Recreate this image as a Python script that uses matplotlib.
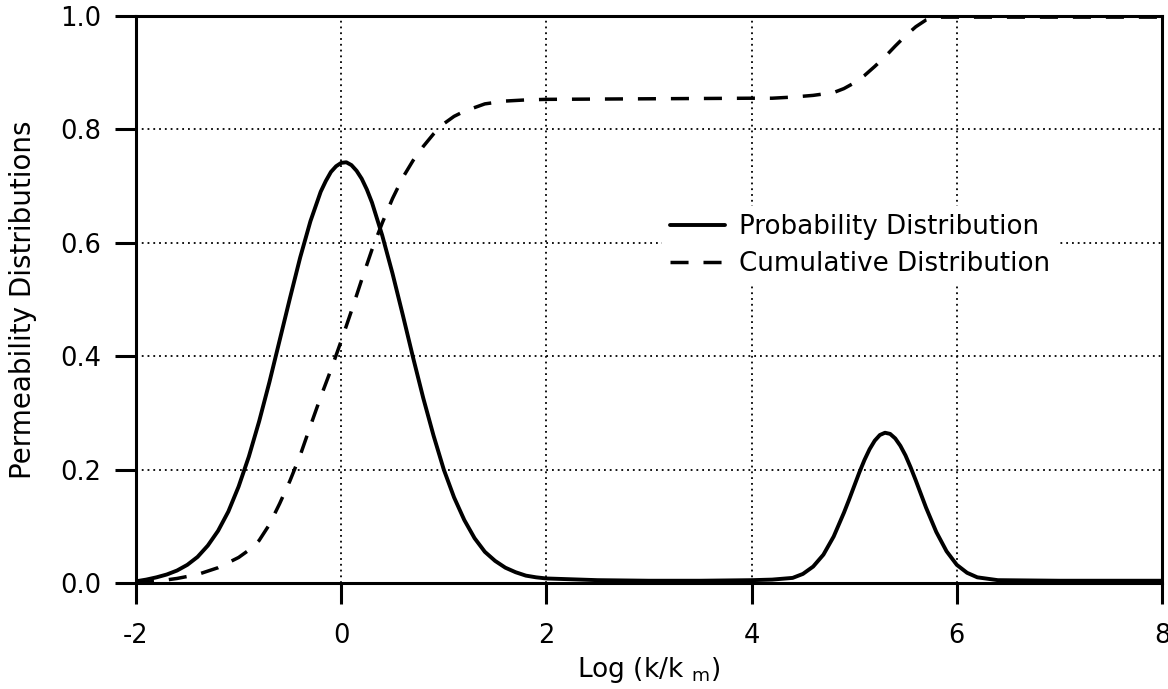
import matplotlib
matplotlib.use("Agg")
import matplotlib.pyplot as plt

# ---- data ----
x_prob = [-2.0, -1.9, -1.8, -1.7, -1.6, -1.5, -1.4, -1.3, -1.2, -1.1, -1.0, -0.9, -0.8, -0.7,
          -0.6, -0.5, -0.4, -0.3, -0.2, -0.15, -0.1, -0.05, 0.0, 0.05, 0.1, 0.15, 0.2, 0.25,
          0.3, 0.4, 0.5, 0.6, 0.7, 0.8, 0.9, 1.0, 1.1, 1.2, 1.3, 1.4, 1.5, 1.6, 1.7, 1.8,
          1.9, 2.0, 2.5, 3.0, 3.5, 4.0, 4.2, 4.4, 4.5, 4.6, 4.7, 4.8, 4.9, 4.95, 5.0, 5.05,
          5.1, 5.15, 5.2, 5.25, 5.3, 5.35, 5.4, 5.45, 5.5, 5.55, 5.6, 5.65, 5.7, 5.8, 5.9,
          6.0, 6.1, 6.2, 6.4, 7.0, 8.0]
prob = [0.003, 0.006, 0.010, 0.015, 0.022, 0.032, 0.046, 0.066, 0.092, 0.126, 0.170, 0.223,
        0.285, 0.354, 0.428, 0.502, 0.574, 0.638, 0.690, 0.709, 0.725, 0.735, 0.741, 0.742,
        0.737, 0.727, 0.713, 0.694, 0.671, 0.613, 0.546, 0.473, 0.398, 0.326, 0.260, 0.200,
        0.151, 0.111, 0.079, 0.055, 0.039, 0.027, 0.019, 0.013, 0.010, 0.008, 0.005, 0.004,
        0.004, 0.005, 0.006, 0.009, 0.016, 0.029, 0.050, 0.082, 0.124, 0.147, 0.171, 0.195,
        0.217, 0.236, 0.251, 0.261, 0.265, 0.263, 0.255, 0.242, 0.225, 0.204, 0.181, 0.157,
        0.133, 0.090, 0.056, 0.032, 0.018, 0.010, 0.005, 0.004, 0.004]

x_cum = [-2.0, -1.8, -1.6, -1.4, -1.2, -1.0, -0.9, -0.8, -0.7, -0.6, -0.5, -0.4, -0.3, -0.2,
         -0.1, 0.0, 0.1, 0.2, 0.3, 0.4, 0.5, 0.6, 0.7, 0.8, 0.9, 1.0, 1.1, 1.2, 1.4, 1.6,
         1.8, 2.0, 3.0, 4.0, 4.2, 4.4, 4.6, 4.8, 4.9, 5.0, 5.1, 5.2, 5.3, 5.4, 5.5, 5.6,
         5.7, 5.8, 5.9, 6.0, 7.0, 8.0]
cum = [0.000, 0.003, 0.008, 0.015, 0.027, 0.045, 0.058, 0.075, 0.103, 0.140, 0.180, 0.225,
       0.277, 0.328, 0.376, 0.427, 0.480, 0.535, 0.588, 0.635, 0.678, 0.715, 0.745, 0.770,
       0.792, 0.810, 0.823, 0.832, 0.845, 0.850, 0.852, 0.853, 0.854, 0.855, 0.855, 0.857,
       0.860, 0.865, 0.872, 0.882, 0.895, 0.911, 0.928, 0.947, 0.965, 0.981, 0.993, 0.998,
       0.998, 0.998, 0.998, 0.998]

x_ticks = [-2, 0, 2, 4, 6, 8]
y_ticks = [0.0, 0.2, 0.4, 0.6, 0.8, 1.0]
y_ticklabels = ["0.0", "0.2", "0.4", "0.6", "0.8", "1.0"]

labels = ["Probability Distribution", "Cumulative Distribution"]
xlabel = r"Log (k/k $_{\rm m}$)"
ylabel = "Permeability Distributions"

# ---- styling ----
plt.rcParams["font.family"] = ["DejaVu Sans"]
plt.rcParams["mathtext.fontset"] = "custom"
plt.rcParams["mathtext.rm"] = "DejaVu Sans"

fig = plt.figure(figsize=(11.68, 6.89), dpi=100)
ax = fig.add_axes([136 / 1168, 1 - 583 / 689, (1162 - 136) / 1168, (583 - 16) / 689])

ax.plot(x_prob, prob, color="black", lw=2.8, solid_capstyle="round",
        solid_joinstyle="round", label=labels[0], zorder=3)
ax.plot(x_cum, cum, color="black", lw=2.5, dashes=(5.2, 4.3), dash_joinstyle="round",
        label=labels[1], clip_on=False, zorder=3)

ax.set_xlim(-2, 8)
ax.set_ylim(0, 1.0)
ax.set_xticks(x_ticks)
ax.set_xticklabels([str(t) for t in x_ticks])
ax.set_yticks(y_ticks)
ax.set_yticklabels(y_ticklabels)

ax.grid(True, color="black", linestyle=(0, (1, 2.2)), linewidth=1.3)
ax.set_axisbelow(True)

for s in ax.spines.values():
    s.set_linewidth(2.2)
    s.set_color("black")

ax.tick_params(axis="both", which="major", direction="out", length=15, width=2.2,
               labelsize=18.5, colors="black")
ax.tick_params(axis="x", pad=14)
ax.tick_params(axis="y", pad=10)

ax.set_xlabel(xlabel, fontsize=19, labelpad=4)
ax.set_ylabel(ylabel, fontsize=20, labelpad=17)

leg = ax.legend(loc="upper left", bbox_to_anchor=(0.5127, 0.665), borderaxespad=0,
                frameon=True, fancybox=False, facecolor="white", edgecolor="none",
                framealpha=1.0, fontsize=18.8, handlelength=2.1, handletextpad=0.55,
                labelspacing=0.42, borderpad=0.3)
leg.set_zorder(4)

fig.savefig("out.png", dpi=100)
